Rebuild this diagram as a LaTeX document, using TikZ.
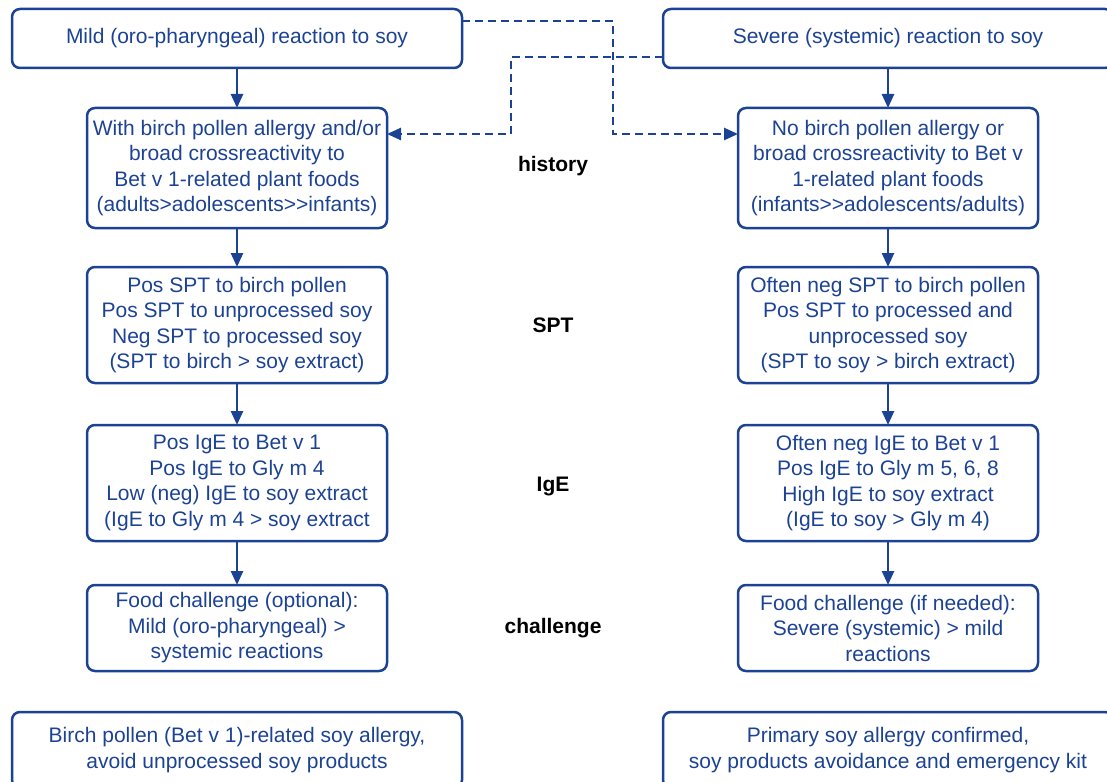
\documentclass[tikz,border=0pt]{standalone}
\usepackage{fontspec}
\setmainfont{Liberation Sans}
\usetikzlibrary{arrows.meta,positioning}
\definecolor{soyblue}{RGB}{28,66,148}

\begin{document}
\begin{tikzpicture}[x=1pt, y=-1pt,
    box/.style={rectangle, rounded corners=8pt, draw=soyblue, line width=2.5pt, text=soyblue,
      minimum width=300pt, inner sep=2pt, outer sep=0pt, align=center, font=\fontsize{21}{25.5}\selectfont},
    wide/.style={box, minimum width=450pt},
    tag/.style={font=\fontsize{21}{25.5}\selectfont\bfseries, text=black},
    arr/.style={-{Triangle[length=14pt,width=12pt]}, line width=2.5pt, soyblue},
    cross/.style={arr, dash pattern=on 8pt off 5pt},
    node distance=40pt
]
  \useasboundingbox (0,0) rectangle (1107,781);
  \clip (0,0) rectangle (1107,781);
  % top row
  \node[wide, minimum height=59pt] (mild) at (237,38.5) {Mild (oro-pharyngeal) reaction to soy};
  \node[wide, minimum height=59pt] (severe) at (888,38.5) {Severe (systemic) reaction to soy};
  % left column
  \node[box, minimum height=120pt, below=40pt of mild] (birch) {With birch pollen allergy and/or\\broad crossreactivity to\\Bet v 1-related plant foods\\(adults>adolescents>{}>infants)};
  \node[box, minimum height=116pt, below=39pt of birch] (sptL) {Pos SPT to birch pollen\\Pos SPT to unprocessed soy\\Neg SPT to processed soy\\(SPT to birch > soy extract)};
  \node[box, minimum height=116pt, below=42pt of sptL] (igeL) {Pos IgE to Bet v 1\\Pos IgE to Gly m 4\\Low (neg) IgE to soy extract\\(IgE to Gly m 4 > soy extract};
  \node[box, minimum height=86pt, below=44pt of igeL] (chalL) {Food challenge (optional):\\Mild (oro-pharyngeal) >\\systemic reactions};
  \node[wide, minimum height=76pt, below=41pt of chalL] (endL) {Birch pollen (Bet v 1)-related soy allergy,\\avoid unprocessed soy products};
  % right column
  \node[box, minimum height=120pt, below=40pt of severe] (nobirch) {No birch pollen allergy or\\broad crossreactivity to Bet v\\1-related plant foods\\(infants>{}>adolescents/adults)};
  \node[box, minimum height=116pt, below=39pt of nobirch] (sptR) {Often neg SPT to birch pollen\\Pos SPT to processed and\\unprocessed soy\\(SPT to soy > birch extract)};
  \node[box, minimum height=116pt, below=42pt of sptR] (igeR) {Often neg IgE to Bet v 1\\Pos IgE to Gly m 5, 6, 8\\High IgE to soy extract\\(IgE to soy > Gly m 4)};
  \node[box, minimum height=86pt, below=44pt of igeR] (chalR) {Food challenge (if needed):\\Severe (systemic) > mild\\reactions};
  \node[wide, minimum height=76pt, below=41pt of chalR] (endR) {Primary soy allergy confirmed,\\soy products avoidance and emergency kit};
  % step labels
  \node[tag] (history) at (553,166) {history};
  \node[tag] (spt) at (553,325) {SPT};
  \node[tag] (ige) at (553,486) {IgE};
  \node[tag] (challenge) at (553,628) {challenge};
  % arrows
  \draw[arr] (mild) -- (birch);
  \draw[arr] (birch) -- (sptL);
  \draw[arr] (sptL) -- (igeL);
  \draw[arr] (igeL) -- (chalL);
  \draw[arr] (severe.south -| nobirch) -- (nobirch);
  \draw[arr] (nobirch) -- (sptR);
  \draw[arr] (sptR) -- (igeR);
  \draw[arr] (igeR) -- (chalR);
  \draw[cross] ([yshift=17.5pt]mild.east) -- ++(151,0) |- ([yshift=34pt]nobirch.west);
  \draw[cross] ([yshift=-18.5pt]severe.west) -- ++(-152,0) |- ([yshift=34pt]birch.east);
\end{tikzpicture}
\end{document}
